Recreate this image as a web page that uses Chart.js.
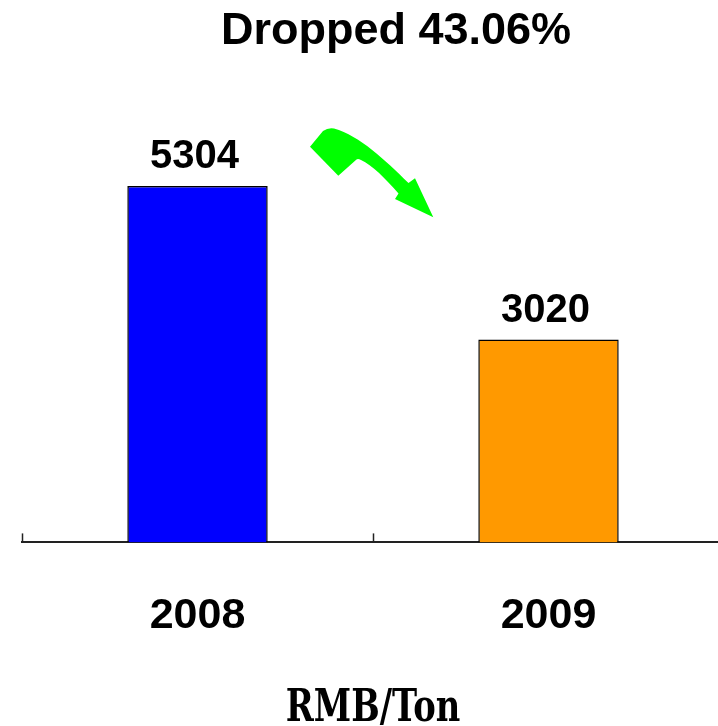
<!DOCTYPE html>
<html>
<head>
<meta charset="utf-8">
<script src="https://cdn.jsdelivr.net/npm/chart.js@4/dist/chart.umd.min.js"></script>
<style>
html,body{margin:0;padding:0;background:#fff;overflow:hidden;}
#wrap{width:760px;height:726px;}
</style>
</head>
<body>
<div id="wrap"><canvas id="c" width="760" height="726"></canvas></div>
<script>
const categories = ['2008', '2009'];
const values = [5304, 3020];
const barColors = ['#0000ff', '#ff9900'];
const titleText = 'Dropped 43.06%';
const unitLabel = 'RMB/Ton';

const SANS = "'Liberation Sans', Arial, Helvetica, sans-serif";

const decor = {
  id: 'decor',
  afterDraw(chart) {
    const ctx = chart.ctx;
    const xs = chart.scales.x;
    const area = chart.chartArea;
    ctx.save();
    // category boundary ticks (upward)
    const step = xs.getPixelForValue(1) - xs.getPixelForValue(0);
    ctx.strokeStyle = '#222';
    ctx.lineWidth = 1.5;
    for (let i = 0; i <= categories.length; i++) {
      const x = Math.round(xs.getPixelForValue(i) - step / 2) + 0.5;
      ctx.beginPath();
      ctx.moveTo(x, area.bottom);
      ctx.lineTo(x, area.bottom - 9);
      ctx.stroke();
    }
    // value labels
    const meta = chart.getDatasetMeta(0);
    ctx.fillStyle = '#000';
    ctx.font = "bold 40px " + SANS;
    ctx.textAlign = 'center';
    ctx.textBaseline = 'alphabetic';
    meta.data.forEach((bar, i) => {
      ctx.fillText(String(values[i]), bar.x - 3, bar.y - 18);
    });
    // title
    ctx.font = "bold 45px " + SANS;
    ctx.fillText(titleText, 396, 44);
    // unit label (condensed serif)
    ctx.save();
    ctx.translate(373, 721);
    ctx.scale(0.75, 1);
    ctx.font = "bold 45px 'DejaVu Serif', serif";
    ctx.fillText(unitLabel, 0, 0);
    ctx.restore();
    // green arrow
    ctx.fillStyle = '#00ff00';
    ctx.beginPath();
    ctx.moveTo(310, 146.7);
    ctx.lineTo(323, 131);
    ctx.quadraticCurveTo(328, 127.5, 334, 128.5);
    ctx.bezierCurveTo(360, 136, 385, 160, 408.5, 183);
    ctx.lineTo(415, 178.3);
    ctx.lineTo(433.3, 217.3);
    ctx.lineTo(395, 199);
    ctx.lineTo(398.5, 193.5);
    ctx.bezierCurveTo(385, 178, 372, 165, 361, 160);
    ctx.quadraticCurveTo(358, 158.5, 356.5, 159.5);
    ctx.lineTo(338.3, 175.7);
    ctx.closePath();
    ctx.fill();
    ctx.restore();
  }
};

new Chart(document.getElementById('c'), {
  type: 'bar',
  data: {
    labels: categories,
    datasets: [{
      data: values,
      backgroundColor: barColors,
      borderColor: '#000',
      borderWidth: 1.5,
      borderSkipped: 'bottom',
      categoryPercentage: 0.4,
      barPercentage: 1
    }]
  },
  options: {
    responsive: false,
    animation: false,
    layout: { padding: { left: 22, right: 36, top: 5, bottom: 36 } },
    plugins: { legend: { display: false }, tooltip: { enabled: false } },
    scales: {
      x: {
        grid: { display: false, drawTicks: false },
        border: { display: true, color: '#222', width: 2 },
        ticks: {
          color: '#000',
          padding: 48,
          font: { family: SANS, size: 43, weight: 'bold' }
        }
      },
      y: {
        display: false,
        min: 0,
        max: 8000
      }
    }
  },
  plugins: [decor]
});
</script>
</body>
</html>
